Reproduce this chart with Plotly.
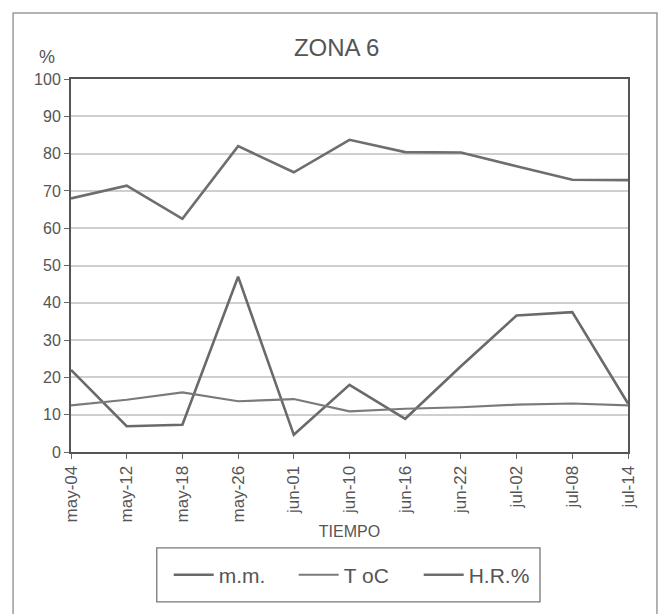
import plotly.graph_objects as go

# Sampling dates (x categories)
fechas = ["may-04", "may-12", "may-18", "may-26", "jun-01", "jun-10",
          "jun-16", "jun-22", "jul-02", "jul-08", "jul-14"]

# Precipitation (mm)
mm = [22, 6.9, 7.3, 47, 4.6, 18, 8.9, 23, 36.6, 37.5, 13]
# Temperature (°C)
temp = [12.5, 14, 16, 13.6, 14.2, 10.9, 11.6, 12, 12.7, 13, 12.5]
# Relative humidity (%)
hr = [68, 71.4, 62.5, 82, 75, 83.7, 80.4, 80.3, 76.6, 73, 72.9]

y_ticks = list(range(0, 101, 10))

font_family = "Liberation Sans, Arial, sans-serif"
ink = "#555555"

fig = go.Figure()
fig.add_trace(go.Scatter(x=fechas, y=mm, mode="lines", name="m.m.",
                         line=dict(color="#6a6a6a", width=2.6)))
fig.add_trace(go.Scatter(x=fechas, y=temp, mode="lines", name="T oC",
                         line=dict(color="#7a7a7a", width=2.2)))
fig.add_trace(go.Scatter(x=fechas, y=hr, mode="lines", name="H.R.%",
                         line=dict(color="#6e6e6e", width=2.6)))

fig.update_layout(
    width=664, height=614,
    margin=dict(l=71, r=36, t=79, b=162),
    paper_bgcolor="white", plot_bgcolor="white",
    font=dict(family=font_family, color=ink, size=16),
    title=dict(text="ZONA 6", x=0.507, xanchor="center", y=0.923, yanchor="middle",
               font=dict(size=24, color=ink)),
    showlegend=True,
    legend=dict(orientation="h", x=0.512, xanchor="center", y=-0.33, yanchor="middle",
                borderwidth=0, bgcolor="rgba(0,0,0,0)",
                font=dict(size=21, color=ink), itemwidth=40,
                entrywidth=70, traceorder="normal"),
    xaxis=dict(
        type="category", categoryorder="array", categoryarray=fechas,
        range=[0, len(fechas) - 1],
        tickangle=-90, tickfont=dict(size=17, color=ink),
        ticks="outside", ticklen=5, tickcolor="#666666",
        showgrid=False, zeroline=False,
        showline=True, linecolor="#555555", linewidth=2, mirror=True,
        title=dict(text="TIEMPO", font=dict(size=16, color=ink), standoff=4),
    ),
    yaxis=dict(
        range=[0, 100], tickvals=y_ticks, ticktext=[str(v) for v in y_ticks],
        tickfont=dict(size=16, color=ink),
        ticks="outside", ticklen=5, tickcolor="#666666",
        showgrid=True, gridcolor="#cfcfcf", gridwidth=1.6,
        zeroline=False,
        showline=True, linecolor="#555555", linewidth=2, mirror=True,
    ),
)

# "%" unit label above the y axis
fig.add_annotation(text="%", xref="paper", yref="paper",
                   x=-0.043, y=1.06, xanchor="center", yanchor="middle",
                   showarrow=False, font=dict(size=18, color=ink))

# Outer frame around the whole chart
fig.add_shape(type="rect", xref="paper", yref="paper",
              x0=-0.104, x1=1.052, y0=-0.48, y1=1.177,
              line=dict(color="#9a9a9a", width=1.5), fillcolor="rgba(0,0,0,0)",
              layer="below")

# Box around the legend
fig.add_shape(type="rect", xref="paper", yref="paper",
              x0=0.154, x1=0.842, y0=-0.402, y1=-0.257,
              line=dict(color="#777777", width=1.3), fillcolor="white",
              layer="below")

fig.write_html("out.html")
